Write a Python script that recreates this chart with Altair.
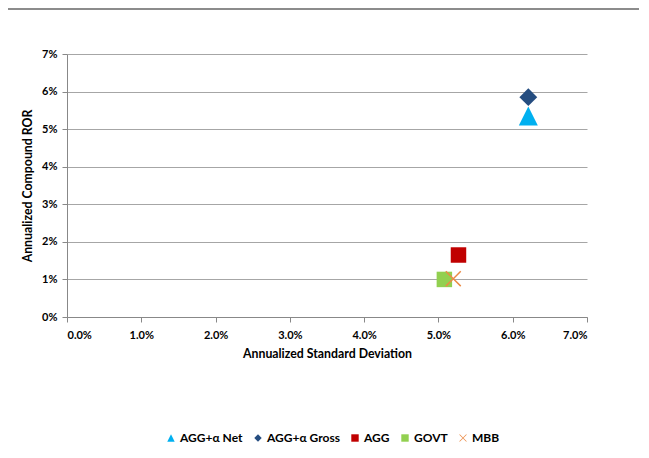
import altair as alt
import pandas as pd

series = ["AGG+α Net", "AGG+α Gross", "AGG", "GOVT", "MBB"]
std_dev = [6.21, 6.21, 5.27, 5.08, 5.20]
ror = [5.35, 5.85, 1.65, 1.00, 1.02]
marker_size = [256, 225, 169, 169, 180]
colors = ["#00B0F0", "#254D80", "#C00000", "#92D050", "#EB8A45"]

tri = "M0,-1L1,1L-1,1Z"
xshape = ("M0,-0.13L0.87,-1L1,-0.87L0.13,0L1,0.87L0.87,1L0,0.13"
          "L-0.87,1L-1,0.87L-0.13,0L-1,-0.87L-0.87,-1Z")
shapes = [tri, "diamond", "square", "square", xshape]

df = pd.DataFrame({
    "series": series,
    "sd": [v / 100 for v in std_dev],
    "ror": [v / 100 for v in ror],
    "msize": marker_size,
    "order": list(range(len(series))),
})

FONT = "Lato"

points = alt.Chart(df).mark_point(filled=True, opacity=1).encode(
    x=alt.X("sd:Q", scale=alt.Scale(domain=[0, 0.07], nice=False),
            axis=alt.Axis(title="Annualized Standard Deviation", format=".1%",
                          values=[0, 0.01, 0.02, 0.03, 0.04, 0.05, 0.06, 0.07],
                          grid=False, tickSize=5, labelPadding=7,
                          titlePadding=7)),
    y=alt.Y("ror:Q", scale=alt.Scale(domain=[0, 0.07], nice=False),
            axis=alt.Axis(title="Annualized Compound ROR", format=".0%",
                          values=[0, 0.01, 0.02, 0.03, 0.04, 0.05, 0.06, 0.07],
                          grid=True, tickSize=5, labelPadding=5,
                          titlePadding=7)),
    color=alt.Color("series:N", scale=alt.Scale(domain=series, range=colors),
                    legend=alt.Legend(title=None, orient="none", direction="horizontal",
                                      legendX=98, legendY=378, symbolSize=55,
                                      labelFont=FONT, labelFontSize=12,
                                      labelFontWeight="bold", labelColor="#000000",
                                      columnPadding=9, labelOffset=3)),
    shape=alt.Shape("series:N", scale=alt.Scale(domain=series, range=shapes)),
    size=alt.Size("msize:Q", scale=alt.Scale(type="identity"), legend=None),
    order=alt.Order("order:Q"),
)

top_line = alt.Chart(df).mark_rule(color="#8C8C8C", strokeWidth=2).encode(
    x=alt.value(-59), x2=alt.value(574), y=alt.value(-45)
)

chart = alt.layer(top_line, points).properties(
    width=520, height=263,
    autosize=alt.AutoSizeParams(type="none"),
    padding={"left": 59, "top": 46, "right": 52, "bottom": 130},
).configure_view(stroke=None).configure_axis(
    labelFont=FONT, labelFontSize=11, labelFontWeight="bold", labelColor="#000000",
    titleFont=FONT, titleFontSize=12.3, titleFontWeight="bold", titleColor="#000000",
    domainColor="#888888", tickColor="#888888", gridColor="#A6A6A6",
)

chart.save("out.html", embed_options={"renderer": "svg", "actions": False})
